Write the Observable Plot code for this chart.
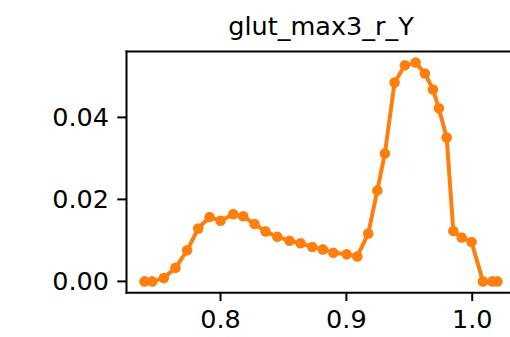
<!DOCTYPE html>
<html>
<head>
<meta charset="utf-8">
<script src="https://cdn.jsdelivr.net/npm/d3@7"></script>
<script src="https://cdn.jsdelivr.net/npm/@observablehq/plot@0.6"></script>
<style>
  html, body { margin: 0; padding: 0; background: #fff; }
  svg { display: block; }
</style>
</head>
<body>
<div id="chart"></div>
<script>
const title = "glut_max3_r_Y";
const xValues = [0.7396, 0.7457, 0.7549, 0.7642, 0.7735, 0.7823, 0.7913, 0.8000, 0.8101, 0.8180,
  0.8270, 0.8358, 0.8451, 0.8548, 0.8636, 0.8729, 0.8813, 0.8896, 0.9002, 0.9087,
  0.9174, 0.9246, 0.9306, 0.9383, 0.9465, 0.9550, 0.9624, 0.9688, 0.9735, 0.9797,
  0.9850, 0.9916, 0.9995, 1.0085, 1.0160, 1.0200];
const yValues = [0.0000, 0.0000, 0.0008, 0.0033, 0.0076, 0.0129, 0.0157, 0.0148, 0.0164, 0.0159,
  0.0140, 0.0122, 0.0109, 0.0099, 0.0093, 0.0084, 0.0078, 0.0070, 0.0066, 0.0061,
  0.0117, 0.0222, 0.0312, 0.0485, 0.0527, 0.0534, 0.0507, 0.0468, 0.0422, 0.0351,
  0.0123, 0.0107, 0.0096, 0.0000, 0.0000, 0.0000];
const xTicks = [0.8, 0.9, 1.0];
const yTicks = [0.00, 0.02, 0.04];

const data = xValues.map((v, i) => ({x: v, y: yValues[i]}));
const orange = "#ff7f0e";
const fontSize = 25.5;

const chart = Plot.plot({
  width: 510,
  height: 337,
  marginLeft: 126,
  marginRight: -5,
  marginTop: 51,
  marginBottom: 44.7,
  style: {fontFamily: "DejaVu Sans", fontSize: fontSize + "px", color: "black", background: "white"},
  x: {domain: [0.72528, 1.0344]},
  y: {domain: [-0.00278, 0.05607]},
  marks: [
    Plot.frame({anchor: "left", strokeWidth: 2, stroke: "black"}),
    Plot.frame({anchor: "top", strokeWidth: 2, stroke: "black"}),
    Plot.frame({anchor: "bottom", strokeWidth: 2, stroke: "black"}),
    Plot.axisX({ticks: xTicks, tickFormat: d3.format(".1f"), tickSize: 8.75, tickPadding: 8.75,
      strokeWidth: 2, fontSize: fontSize, label: null}),
    Plot.axisY({ticks: yTicks, tickFormat: d3.format(".2f"), tickSize: 8.75, tickPadding: 8.75,
      strokeWidth: 2, fontSize: fontSize, label: null}),
    Plot.line(data, {x: "x", y: "y", stroke: orange, strokeWidth: 4, strokeLinejoin: "round"}),
    Plot.dot(data, {x: "x", y: "y", r: 5.3, fill: orange}),
    Plot.text([title], {frameAnchor: "top", lineAnchor: "bottom", dy: -17, fontSize: 25.5, fill: "black"})
  ]
});
document.getElementById("chart").appendChild(chart);
</script>
</body>
</html>
